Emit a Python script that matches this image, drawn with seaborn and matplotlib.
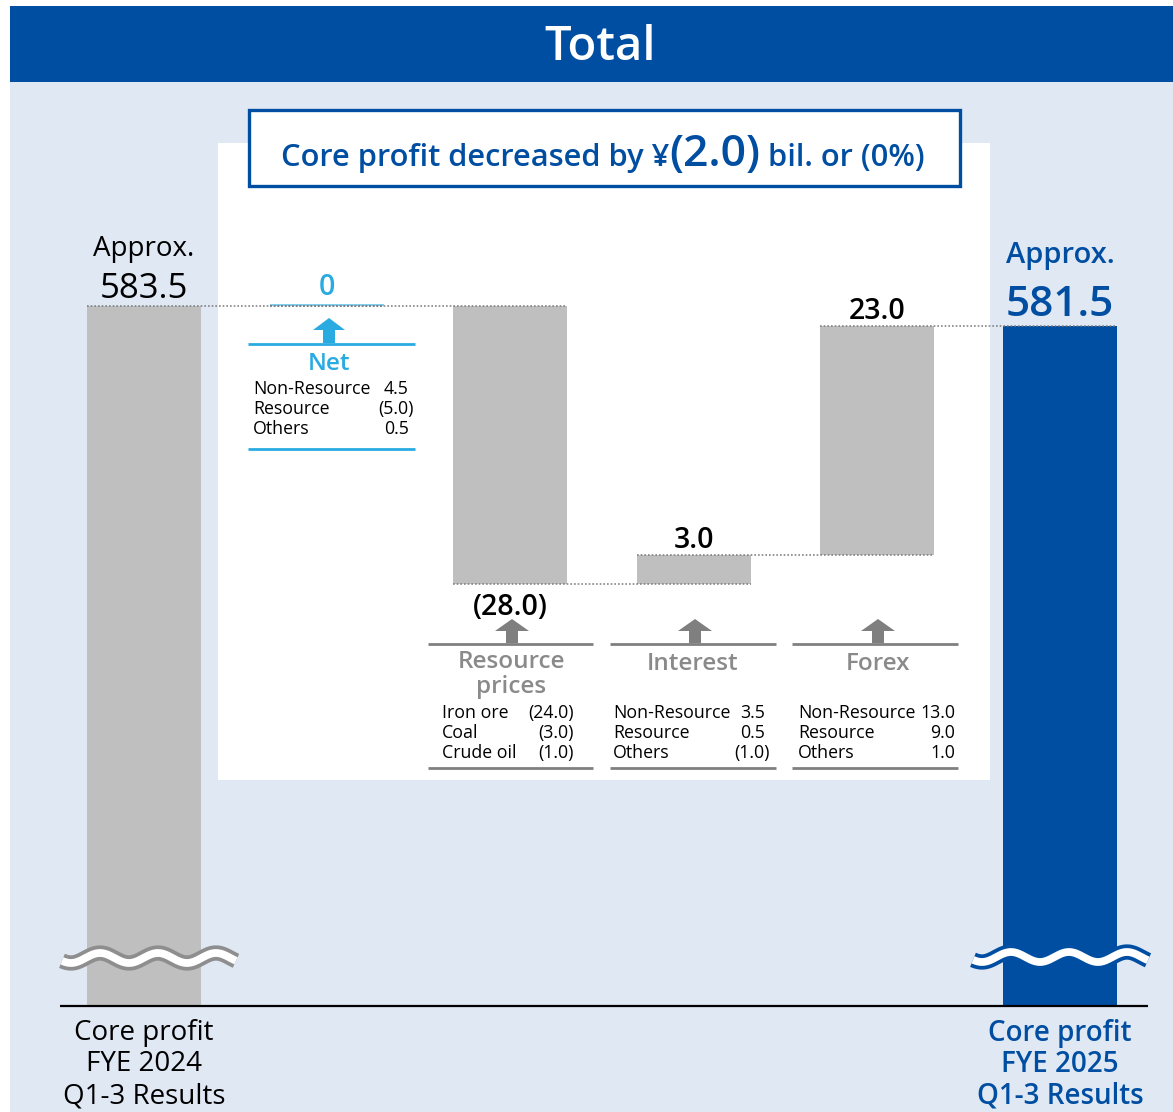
import numpy as np
import pandas as pd
import matplotlib
matplotlib.use("Agg")
import matplotlib.pyplot as plt
import seaborn as sns
from matplotlib.patches import Rectangle, Polygon

# ---------------- data ----------------
categories = ["Core profit\nFYE 2024\nQ1-3 Results", "Net", "Resource\nprices",
              "Interest", "Forex", "Core profit\nFYE 2025\nQ1-3 Results"]
start_value = 583.5
end_value = 581.5
step_values = [0.0, -28.0, 3.0, 23.0]
step_labels = ["0", "(28.0)", "3.0", "23.0"]
net_items = ["Non-Resource", "Resource", "Others"]
net_values = ["4.5", "(5.0)", "0.5"]
resource_items = ["Iron ore", "Coal", "Crude oil"]
resource_values = ["(24.0)", "(3.0)", "(1.0)"]
interest_items = ["Non-Resource", "Resource", "Others"]
interest_values = ["3.5", "0.5", "(1.0)"]
forex_items = ["Non-Resource", "Resource", "Others"]
forex_values = ["13.0", "9.0", "1.0"]
title_parts = ["Core profit decreased by ¥", "(2.0)", " bil. or (0%)"]
header_text = "Total"
start_label = ["Approx.", "583.5"]
end_label = ["Approx.", "581.5"]

# ---------------- style ----------------
BLUE = "#004EA1"
LIGHT_BG = "#E0E8F4"
GRAY_BAR = "#BFBFBF"
LBLUE = "#29ABE2"
GRAY_TXT = "#8A8A8A"
GRAY_LINE = "#808080"
SB = "semibold"

sns.set_theme(style="white")
plt.rcParams['font.family'] = ['Open Sans', 'DejaVu Sans']

W, H = 1173, 1112
fig = plt.figure(figsize=(W / 100, H / 100), dpi=100)
fig.patch.set_facecolor("white")

# background axes in pixel coordinates
bg = fig.add_axes([0, 0, 1, 1], zorder=0)
bg.set_xlim(0, W); bg.set_ylim(H, 0); bg.axis("off")
bg.add_patch(Rectangle((10, 82), W - 10, H - 82, fc=LIGHT_BG, ec="none"))
bg.add_patch(Rectangle((10, 6), W - 10, 76, fc=BLUE, ec="none"))
bg.add_patch(Rectangle((218, 143), 990 - 218, 780 - 143, fc="white", ec="none"))
bg.add_patch(Rectangle((248.5, 109.5), 960 - 248.5, 186 - 109.5, fc="white", ec=BLUE, lw=2.4))
bg.text(600, 47, header_text, color="white", fontsize=34, fontweight=SB,
        ha="center", va="center")

# title with mixed sizes
sizes = [22.2, 32, 22.2]
ttexts = [bg.text(0, 166, p, fontsize=s, fontweight=SB, color=BLUE,
                  ha="left", va="baseline") for p, s in zip(title_parts, sizes)]
fig.canvas.draw()
rend = fig.canvas.get_renderer()
widths = [t.get_window_extent(rend).width for t in ttexts]
xx = 603 - sum(widths) / 2
for t, w in zip(ttexts, widths):
    t.set_x(xx); xx += w

# ---------------- data axes ----------------
PX = 9.94            # pixels per unit
STEP = 183.2         # pixels between bar centers
X0 = 144             # center of first bar
BW = 114 / STEP
ax = fig.add_axes([0, 1 - 1005 / H, 1, (1005 - 200) / H], zorder=1)
ax.patch.set_alpha(0)

tot = pd.DataFrame({"cat": [categories[0], categories[-1]],
                    "value": [start_value, end_value]})
sns.barplot(data=tot, x="cat", y="value", hue="cat", order=categories,
            hue_order=[categories[0], categories[-1]],
            palette=[GRAY_BAR, BLUE], width=BW, dodge=False, legend=False,
            saturation=1, linewidth=0, ax=ax)

cum = start_value + np.concatenate([[0.0], np.cumsum(step_values)])
steps = np.array(step_values)
bottoms = np.minimum(cum[:-1], cum[1:])
heights = np.abs(steps)
xs = np.arange(1, 1 + len(steps))
ax.bar(xs, heights, bottom=bottoms, width=BW, color=GRAY_BAR, linewidth=0, zorder=2)
for x, v, b in zip(xs, steps, bottoms):
    if v == 0:
        ax.hlines(b + 0.12, x - BW / 2, x + BW / 2, colors="#7FCDEE", lw=1.4, zorder=3)

# connectors
for i in range(len(cum)):
    ax.hlines(cum[i], i - BW / 2, i + 1 + BW / 2, colors="#7A7A7A",
              linestyles=(0, (1.1, 1.3)), lw=1.1, zorder=4)

ax.set_xlim(-X0 / STEP, (W - X0) / STEP)
ax.set_ylim(start_value - (1005 - 306) / PX, start_value + (306 - 200) / PX)

def pt(px):
    return px * 0.72

ax.annotate(start_label[0], (0, start_value), xytext=(0, pt(50)), textcoords="offset points",
            ha="center", va="baseline", fontsize=20, color="black")
ax.annotate(start_label[1], (0, start_value), xytext=(0, pt(8)), textcoords="offset points",
            ha="center", va="baseline", fontsize=25, color="black")
ax.annotate(end_label[0], (5, end_value), xytext=(0, pt(63)), textcoords="offset points",
            ha="center", va="baseline", fontsize=21, color=BLUE, fontweight=SB)
ax.annotate(end_label[1], (5, end_value), xytext=(0, pt(10)), textcoords="offset points",
            ha="center", va="baseline", fontsize=30.5, color=BLUE, fontweight=SB)
for x, v, lab, b in zip(xs, steps, step_labels, bottoms):
    if v >= 0:
        col = LBLUE if v == 0 else "black"
        off = 11 if v == 0 else 7
        ax.annotate(lab, (x, b + abs(v)), xytext=(0, pt(off)), textcoords="offset points",
                    ha="center", va="baseline", fontsize=20.5, color=col, fontweight=SB)
    else:
        ax.annotate(lab, (x, b), xytext=(0, -pt(31)), textcoords="offset points",
                    ha="center", va="baseline", fontsize=20.5, color="black", fontweight=SB)

ax.set_xticks([0, 5])
ax.set_xticklabels([categories[0], categories[-1]])
ax.tick_params(axis="x", length=0, pad=10, labelsize=20)
ax.set_yticks([])
ax.set_xlabel(""); ax.set_ylabel("")
for s in ax.spines.values():
    s.set_visible(False)
tl = ax.get_xticklabels()
for t in tl:
    t.set_multialignment("center")
tl[0].set_color("black"); tl[0].set_linespacing(1.17)
tl[1].set_color(BLUE); tl[1].set_fontweight(SB); tl[1].set_linespacing(1.11)

# ---------------- overlay ----------------
ov = fig.add_axes([0, 0, 1, 1], zorder=3)
ov.set_xlim(0, W); ov.set_ylim(H, 0); ov.axis("off")
ov.patch.set_alpha(0)

ov.plot([60, 1148], [1005.5, 1005.5], color="black", lw=1.6, solid_capstyle="butt")

def wave(x0, x1, yc, edge):
    xw = np.linspace(x0, x1, 300)
    yw = yc + 5.0 * np.sin(2 * np.pi * (xw - x0) / 58.0 + 0.6)
    ov.plot(xw, yw, color=edge, lw=11, solid_capstyle="butt")
    ov.plot(xw, yw, color="white", lw=5.6, solid_capstyle="butt")

wave(62, 236, 958, "#8E8E8E")
wave(973, 1148, 957, BLUE)

def arrow(cx, tip, base, color, head_h=12, head_w=32, shaft_w=12):
    pts = [(cx, tip), (cx + head_w / 2, tip + head_h), (cx + shaft_w / 2, tip + head_h),
           (cx + shaft_w / 2, base), (cx - shaft_w / 2, base), (cx - shaft_w / 2, tip + head_h),
           (cx - head_w / 2, tip + head_h)]
    ov.add_patch(Polygon(pts, closed=True, fc=color, ec="none"))

arrow(329, 318, 343, LBLUE)
for cx in [512, 695, 878]:
    arrow(cx, 619, 643, "#7F7F7F", head_h=12, head_w=34, shaft_w=12)

DS = 12.8
def block(x0, x1, ytop, ybot, lcolor, title, tcolor, tsize, tcx, tbase,
          items, values, ix, vright, ybase, paren_shift=5):
    ov.plot([x0, x1], [ytop, ytop], color=lcolor, lw=2.0, solid_capstyle="butt")
    ov.plot([x0, x1], [ybot, ybot], color=lcolor, lw=2.0, solid_capstyle="butt")
    ov.text(tcx, tbase, title, color=tcolor, fontsize=tsize, fontweight=SB,
            ha="center", va="baseline", linespacing=1.05)
    for k, (it, vl) in enumerate(zip(items, values)):
        yb = ybase + 20 * k
        ov.text(ix, yb, it, fontsize=DS, color="black", ha="left", va="baseline")
        xr = vright + (paren_shift if vl.startswith("(") else 0)
        ov.text(xr, yb, vl, fontsize=DS, color="black", ha="right", va="baseline")

block(248, 415, 344, 449, LBLUE, "Net", LBLUE, 17.5, 329, 370,
      net_items, net_values, 253, 409, 394)
block(428, 593, 644, 768, GRAY_LINE, "Resource\nprices", GRAY_TXT, 17.5, 511, 693,
      resource_items, resource_values, 442, 569, 718)
block(610, 776, 644, 768, GRAY_LINE, "Interest", GRAY_TXT, 17.5, 693, 670,
      interest_items, interest_values, 613, 765, 718)
block(792, 958, 644, 768, GRAY_LINE, "Forex", GRAY_TXT, 17.5, 878, 670,
      forex_items, forex_values, 798, 955, 718)

fig.savefig("out.png", dpi=100, facecolor="white")
